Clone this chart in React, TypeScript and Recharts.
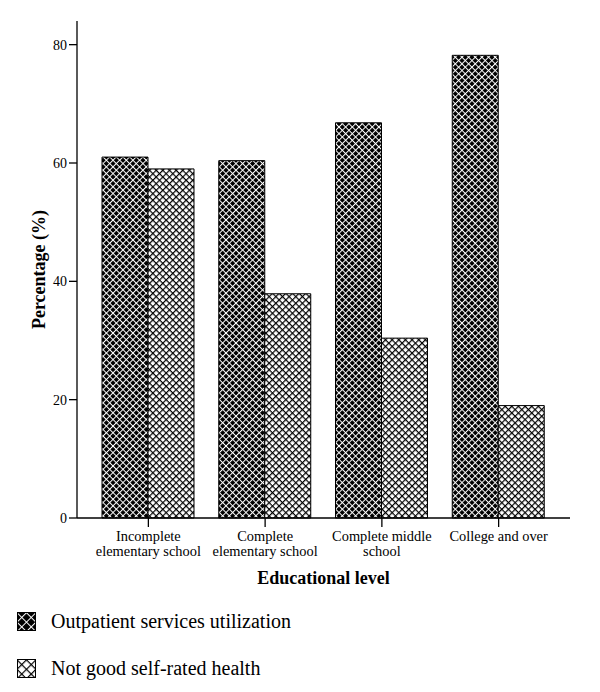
import React from "react";
import { BarChart, Bar, XAxis, YAxis } from "recharts";

const categories = [
  "Incomplete\nelementary school",
  "Complete\nelementary school",
  "Complete middle\nschool",
  "College and over",
];
const outpatient = [61.0, 60.4, 66.8, 78.2];
const notGoodHealth = [59.0, 37.9, 30.4, 19.0];
const seriesNames = ["Outpatient services utilization", "Not good self-rated health"];
const yTicks = [0, 20, 40, 60, 80];

const chartData = categories.map((c, i) => ({
  category: c,
  outpatient: outpatient[i],
  notGood: notGoodHealth[i],
}));

const FONT = "'Liberation Serif', serif";

function CategoryTick(props: any) {
  const { x, y, payload } = props;
  const lines = String(payload.value).split("\n");
  return (
    <text x={x} y={y} textAnchor="middle" style={{ fontFamily: FONT }} fontSize={14.4} fill="#000">
      {lines.map((l, i) => (
        <tspan key={i} x={x} dy={i === 0 ? 12 : 14.5}>
          {l}
        </tspan>
      ))}
    </text>
  );
}

// crosshatch: grid rotated by 45 degrees
function Hatch({ id, step, dark }: { id: string; step: number; dark: boolean }) {
  const lw = dark ? 1.0 : 1.2;
  return (
    <pattern id={id} patternUnits="userSpaceOnUse" width={step} height={step} patternTransform="rotate(45)">
      <rect width={step} height={step} fill={dark ? "#000" : "#fff"} />
      <rect x={0} y={0} width={step} height={lw} fill={dark ? "#fff" : "#000"} />
      <rect x={0} y={0} width={lw} height={step} fill={dark ? "#fff" : "#000"} />
    </pattern>
  );
}

export default function App() {
  return (
    <div style={{ position: "absolute", left: 0, top: 0, width: 600, height: 692, background: "#fff", fontFamily: FONT }}>
      <BarChart
        width={600}
        height={692}
        data={chartData}
        margin={{ top: 21, right: 30, left: 17, bottom: 108 }}
        barCategoryGap={12}
        barGap={0}
        style={{ fontFamily: FONT }}
      >
        <defs>
          <Hatch id="hatchDark" step={4.7} dark={true} />
          <Hatch id="hatchLight" step={4.7} dark={false} />
        </defs>
        <XAxis
          dataKey="category"
          height={66}
          padding={{ left: 13, right: 13 }}
          axisLine={{ stroke: "#000", strokeWidth: 1.3 }}
          tickLine={{ stroke: "#000", strokeWidth: 1.3 }}
          tickSize={9}
          tickMargin={2}
          tick={<CategoryTick />}
          interval={0}
          label={{
            value: "Educational level",
            position: "insideBottom",
            offset: 0,
            style: { fontFamily: FONT, fontSize: 18, fontWeight: "bold", fill: "#000" },
          }}
        />
        <XAxis
          xAxisId="top"
          dataKey="category"
          orientation="top"
          height={0}
          tick={false}
          tickLine={false}
          axisLine={{ stroke: "#000", strokeWidth: 1.3 }}
        />
        <YAxis
          width={60}
          domain={[0, 84]}
          ticks={yTicks}
          axisLine={{ stroke: "#000", strokeWidth: 1.3 }}
          tickLine={{ stroke: "#000", strokeWidth: 1.3 }}
          tickSize={8}
          tickMargin={2}
          tick={{ fontSize: 14, fill: "#000", style: { fontFamily: FONT } }}
          label={{
            value: "Percentage (%)",
            angle: -90,
            position: "center",
            dx: -8,
            style: { fontFamily: FONT, fontSize: 18, fontWeight: "bold", fill: "#000" },
          }}
        />
        <YAxis
          yAxisId="right"
          orientation="right"
          width={0}
          domain={[0, 84]}
          tick={false}
          tickLine={false}
          axisLine={{ stroke: "#000", strokeWidth: 1.3 }}
        />
        <Bar
          dataKey="outpatient"
          name={seriesNames[0]}
          fill="url(#hatchDark)"
          stroke="#000"
          strokeWidth={1}
          isAnimationActive={false}
        />
        <Bar
          dataKey="notGood"
          name={seriesNames[1]}
          fill="url(#hatchLight)"
          stroke="#000"
          strokeWidth={1}
          isAnimationActive={false}
        />
      </BarChart>
      {seriesNames.map((name, i) => (
        <div
          key={name}
          style={{ position: "absolute", left: 17, top: i === 0 ? 612 : 659, display: "flex", alignItems: "center", height: 19 }}
        >
          <svg width={19} height={19} style={{ display: "block" }}>
            <defs>
              <Hatch id={`legendHatch${i}`} step={6.7} dark={i === 0} />
            </defs>
            <rect x={0.5} y={0.5} width={18} height={18} fill={`url(#legendHatch${i})`} stroke="#000" strokeWidth={1} />
          </svg>
          <span style={{ marginLeft: 15, fontSize: 20, fontFamily: FONT, color: "#000", whiteSpace: "nowrap" }}>{name}</span>
        </div>
      ))}
    </div>
  );
}
